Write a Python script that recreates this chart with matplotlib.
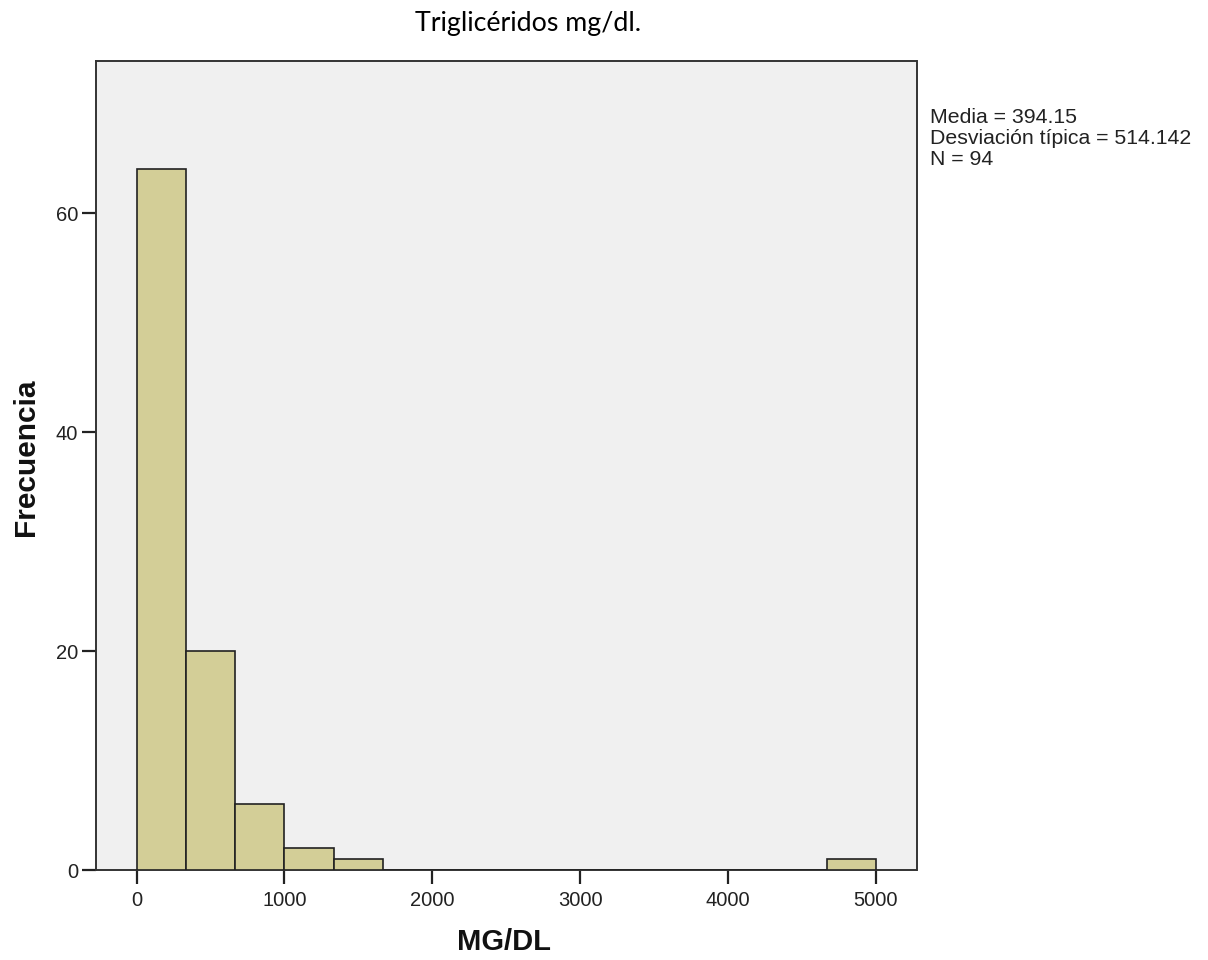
import numpy as np
import matplotlib
matplotlib.use("Agg")
import matplotlib.pyplot as plt

# histogram of triglycerides (MG/DL), 15 bins from 0 to 5000
bin_lo = 0
bin_hi = 5000
n_bins = 15
counts = [64, 20, 6, 2, 1, 0, 0, 0, 0, 0, 0, 0, 0, 0, 1]
x_ticks = [0, 1000, 2000, 3000, 4000, 5000]
y_ticks = [0, 20, 40, 60]
stats_lines = ["Media = 394.15", "Desviación típica = 514.142", "N = 94"]

edges = np.linspace(bin_lo, bin_hi, n_bins + 1)
widths = np.diff(edges)

plt.rcParams['font.family'] = ['Liberation Sans', 'DejaVu Sans']

fig = plt.figure(figsize=(12.08, 9.6), dpi=100)
ax = fig.add_axes([96 / 1208, 90 / 960, (916.5 - 96) / 1208, (870 - 61) / 960])
ax.set_facecolor('#f0f0f0')

ax.bar(edges[:-1], counts, width=widths, align='edge',
       color='#d3ce97', edgecolor='#222222', linewidth=1.2, zorder=3)

ax.set_xlim(-274, 5274)
ax.set_ylim(0, 73.9)
ax.set_xticks(x_ticks)
ax.set_yticks(y_ticks)
ax.tick_params(axis='both', labelsize=14.5, length=10, width=1.6,
               color='#222222', labelcolor='#222222')
ax.tick_params(axis='x', pad=5)
ax.tick_params(axis='y', pad=3)
for s in ax.spines.values():
    s.set_color('#333333')
    s.set_linewidth(1.4)

fig.text(504 / 1208, 1 - 942 / 960, "MG/DL", fontsize=21, fontweight='bold',
         ha='center', va='center', color='#111111')
fig.text(26 / 1208, 1 - 457 / 960, "Frecuencia", fontsize=21.5, fontweight='bold',
         rotation=90, ha='center', va='center', color='#111111')

fig.text(528 / 1208, 1 - 23 / 960, "Triglicéridos mg/dl.", fontsize=19.3,
         family=['Lato', 'DejaVu Sans'], ha='center', va='center', color='black')

fig.text(930 / 1208, 1 - 108 / 960, "\n".join(stats_lines), fontsize=15.3,
         ha='left', va='top', linespacing=1.13, color='#222222')

fig.savefig("out.png", dpi=100)
